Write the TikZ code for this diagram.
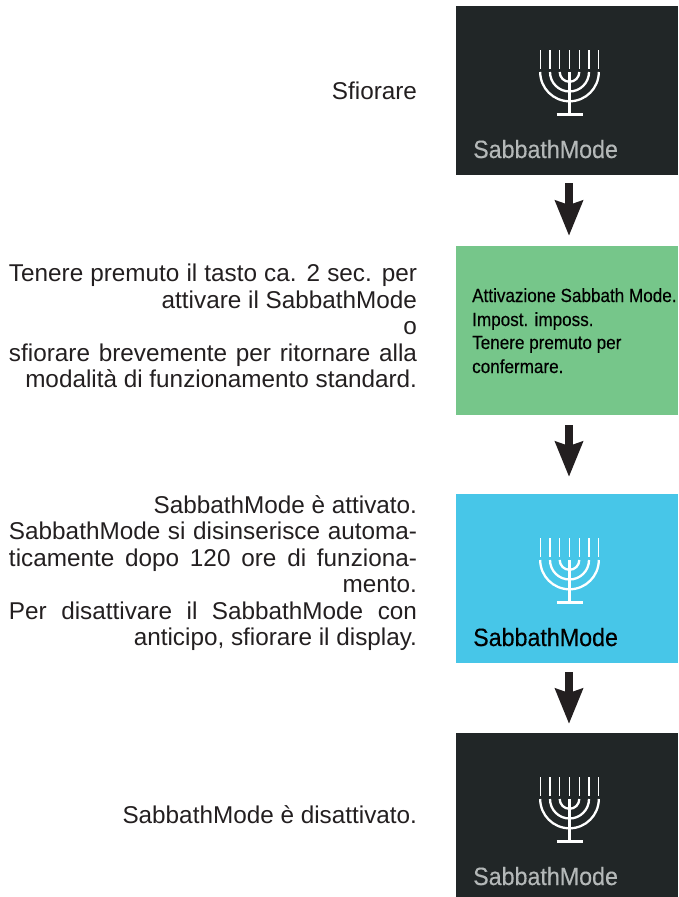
\documentclass[tikz,border=0pt]{standalone}
\usepackage{fontspec}
\setmainfont{Liberation Sans}
\newfontfamily\condfont[FakeStretch=0.93,FakeBold=0.25]{Liberation Sans}
\newfontfamily\condbold[FakeStretch=0.9,FakeBold=0.4]{Liberation Sans}
\usetikzlibrary{arrows.meta}
\definecolor{panel}{HTML}{212627}
\definecolor{greenbox}{HTML}{76C68A}
\definecolor{bluebox}{HTML}{47C6E8}
\definecolor{ink}{HTML}{231F20}
\definecolor{greytext}{HTML}{B4B8B8}
\newcommand{\jl}[1]{\hbox to\linewidth{#1}\par}
\newcommand{\menorah}[1]{%
  \begin{scope}[shift={(#1)},white,line cap=butt]
    \foreach \dx in {-29.3,-19.5,-9.8,0,9.8,19.5,29.3}
      \draw[line width=1.3pt] (\dx,44) -- (\dx,63);
    \foreach \r in {9.8,19.5,29.3}
      \draw[line width=2.3pt] (-\r,66) arc[start angle=180,end angle=360,radius=\r pt];
    \draw[line width=2.3pt] (0,66) -- (0,108);
    \draw[line width=3pt] (-13,108) -- (13,108);
  \end{scope}}
\tikzset{
  panelbox/.style={minimum width=222pt,inner sep=0pt,outer sep=0pt,draw=none,anchor=north west},
  leftnote/.style={text width=408pt,inner sep=0pt,font=\fontsize{24.3}{26.4}\selectfont,text=ink,align=flush right},
  flowarrow/.style={draw=ink,line width=8pt,-{Stealth[length=35pt,width=27pt,inset=4pt]}},
  panellabel/.style={inner sep=0pt,anchor=base west,font=\condfont\fontsize{25}{25}\selectfont},
  greenlabel/.style={inner sep=0pt,anchor=base west,font=\condbold\fontsize{19}{19}\selectfont,text=black}
}
\begin{document}
\begin{tikzpicture}[x=1pt,y=-1pt]
\useasboundingbox (0,0) rectangle (678,897);
\node[panelbox,fill=panel,minimum height=169pt] (b1) at (456,6) {};
\node[panelbox,fill=greenbox,minimum height=169pt] (b2) at (456,246) {};
\node[panelbox,fill=bluebox,minimum height=169pt] (b3) at (456,494) {};
\node[panelbox,fill=panel,minimum height=164pt] (b4) at (456,733) {};
\menorah{569.5,6}
\menorah{569.5,494}
\menorah{569.5,733}
\node[panellabel,text=greytext] (t1) at (473,158) {SabbathMode};
\node[panellabel,text=black] (t3) at (473,646) {SabbathMode};
\node[panellabel,text=greytext] (t4) at (473,885) {SabbathMode};
\node[greenlabel] (g1) at (472,302) {Attivazione Sabbath Mode.};
\node[greenlabel] (g2) at (472,326) {Impost. imposs.};
\node[greenlabel] (g3) at (472,349) {Tenere premuto per};
\node[greenlabel] (g4) at (472,373) {confermare.};
\draw[flowarrow,shorten <=8pt,shorten >=10pt] ([xshift=2pt]b1.south) -- ([xshift=2pt]b2.north);
\draw[flowarrow,shorten <=10pt,shorten >=17pt] ([xshift=2pt]b2.south) -- ([xshift=2pt]b3.north);
\draw[flowarrow,shorten <=9pt,shorten >=9pt] ([xshift=2pt]b3.south) -- ([xshift=2pt]b4.north);
\node[leftnote] (n1) at (213,91) {Sfiorare};
\node[leftnote] (n2) at (213,326) {\jl{Tenere premuto il tasto ca. 2 sec. per}
attivare il SabbathMode\\ o\\
\jl{sfiorare brevemente per ritornare alla}
modalità di funzionamento standard.};
\node[leftnote] (n3) at (213,573) {SabbathMode è attivato.\\
\jl{SabbathMode si disinserisce automa-}
\jl{ticamente dopo 120 ore di funziona-}
mento.\\
\jl{Per disattivare il SabbathMode con}
anticipo, sfiorare il display.};
\node[leftnote] (n4) at (213,815) {SabbathMode è disattivato.};
\end{tikzpicture}
\end{document}
